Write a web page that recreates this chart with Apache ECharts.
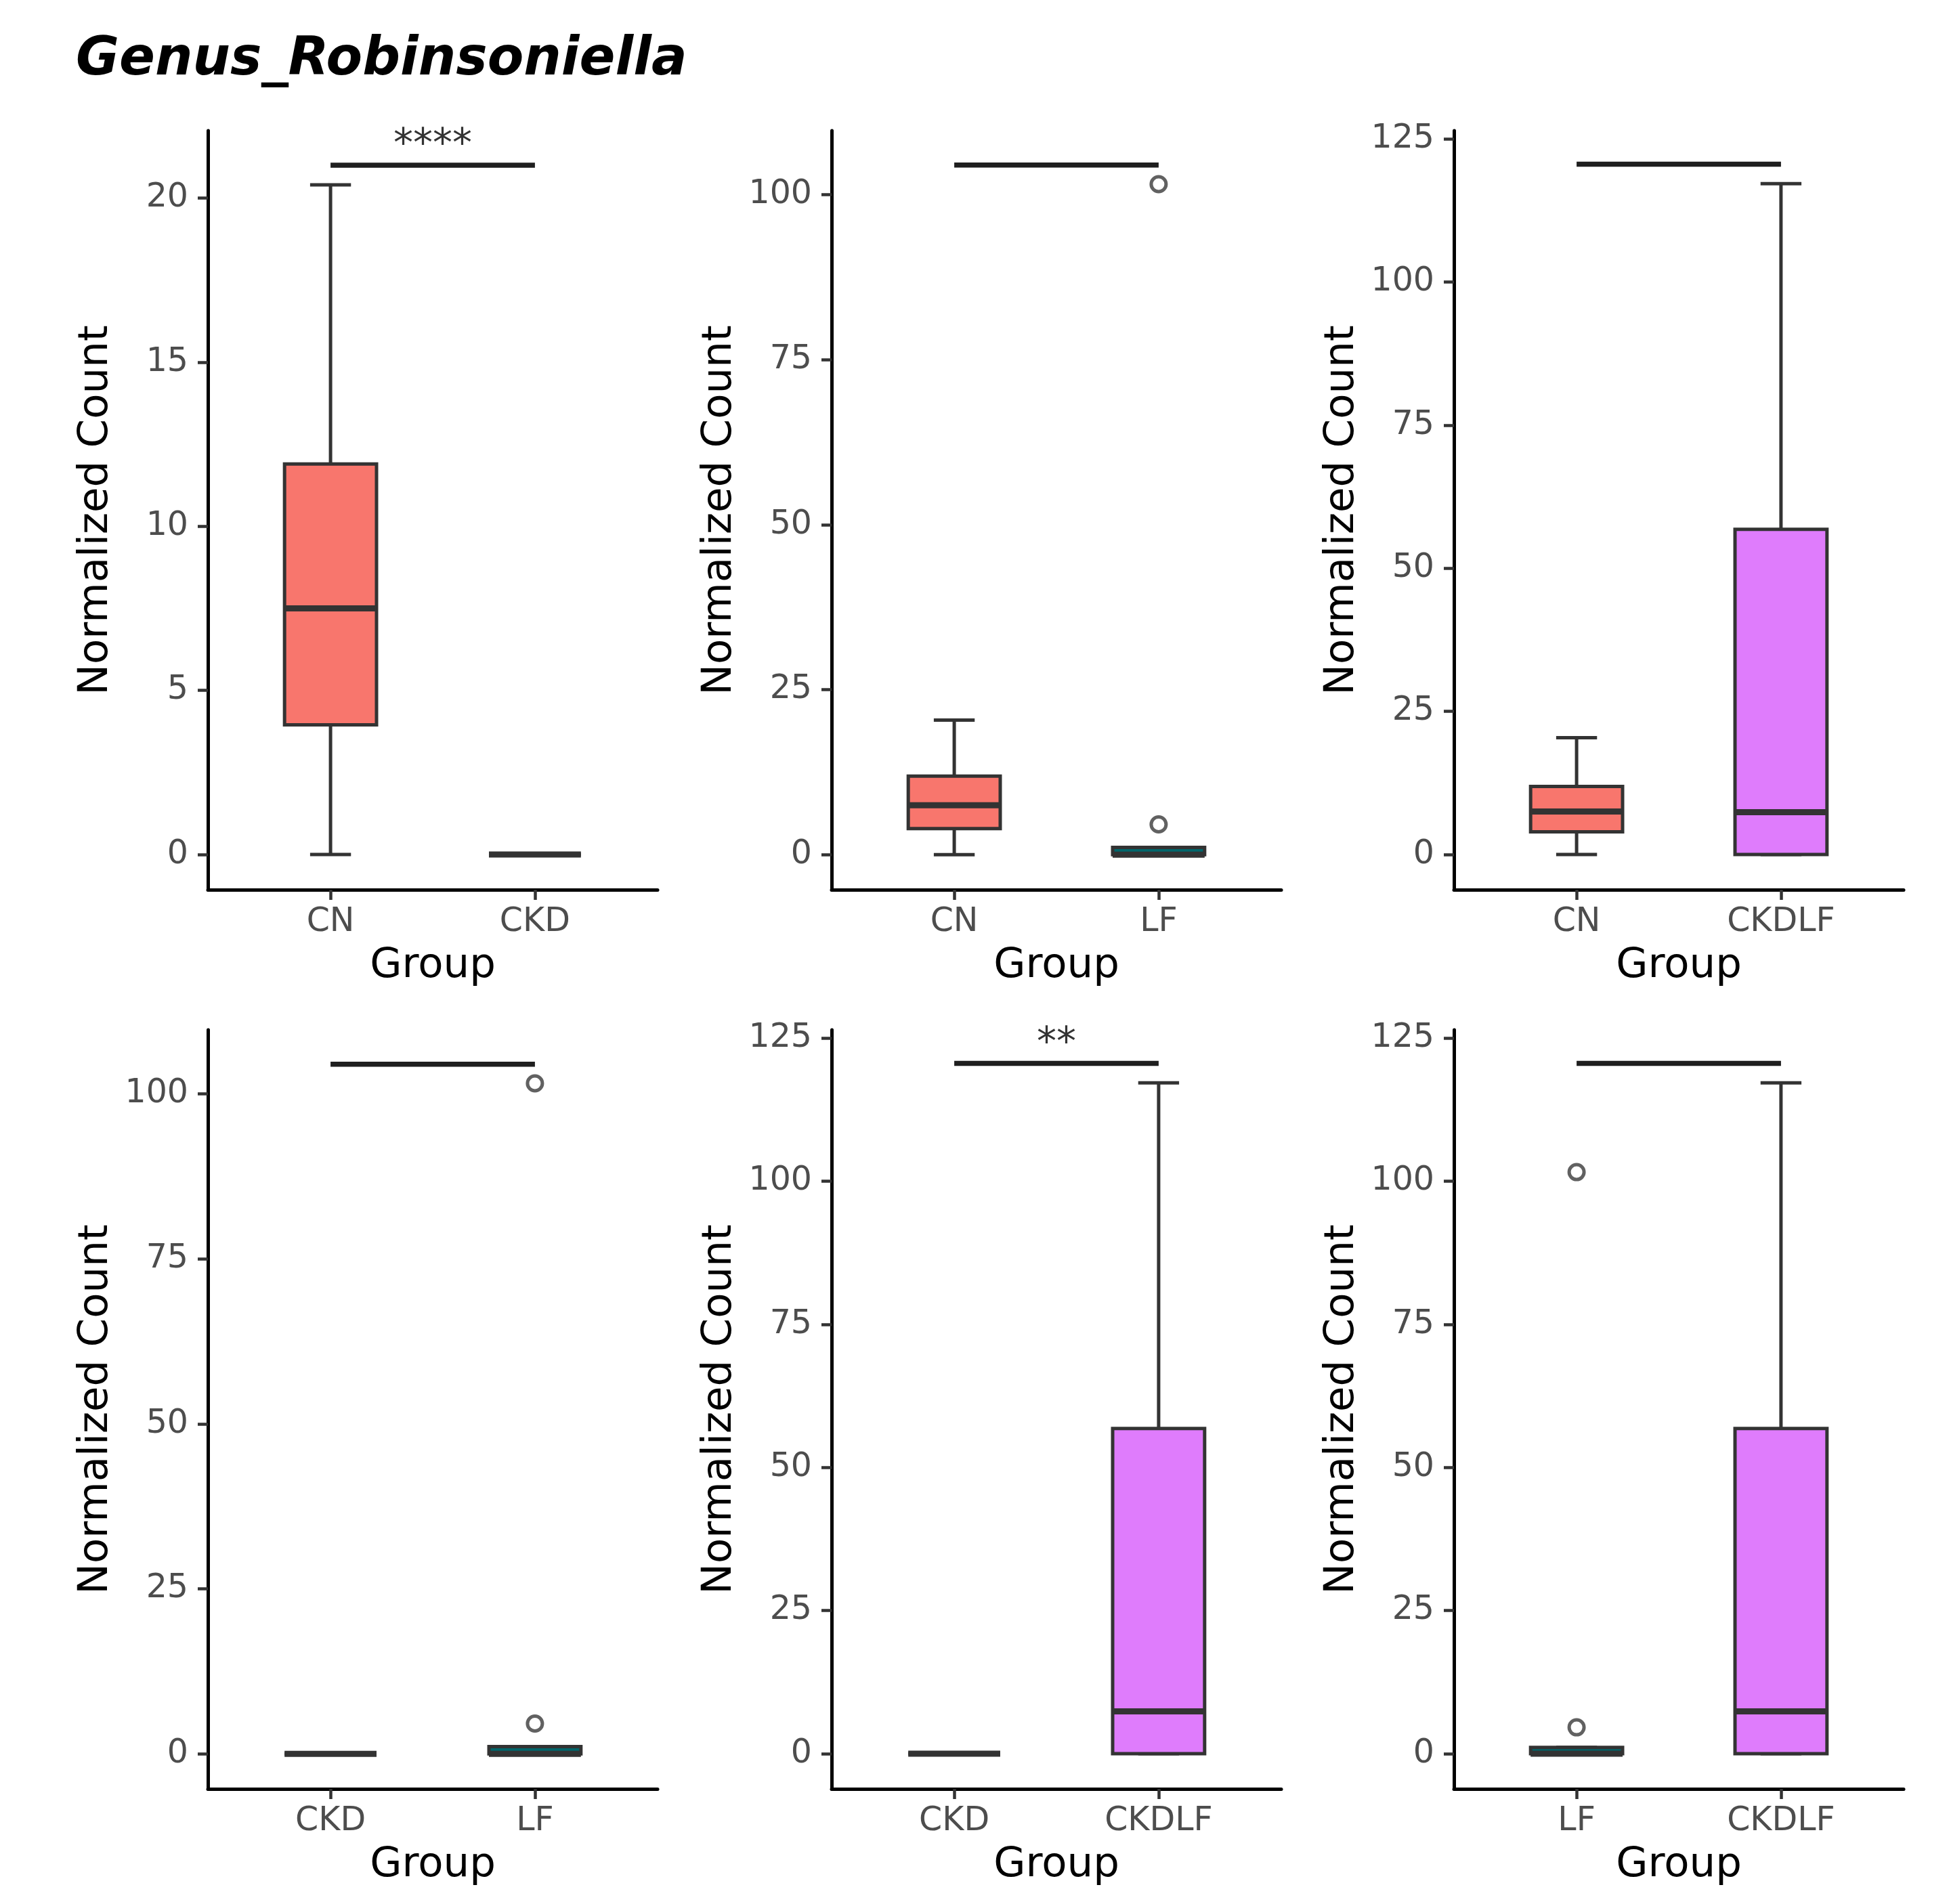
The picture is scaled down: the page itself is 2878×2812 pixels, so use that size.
<!DOCTYPE html>
<html>
<head>
<meta charset="utf-8">
<script src="https://cdn.jsdelivr.net/npm/echarts@6/dist/echarts.min.js"></script>
<style>
html,body{margin:0;padding:0;background:#fff;}
#c{width:2878px;height:2812px;}
</style>
</head>
<body>
<div id="c"></div>
<script>
// ---- data ----
const titleText = 'Genus_Robinsoniella';
const groupNames = ['CN', 'CKD', 'LF', 'CKDLF'];
// [min, Q1, median, Q3, max]
const statCN = [0, 3.95, 7.5, 11.9, 20.4];
const statCKD = [0, 0, 0, 0, 0];
const statLF = [0, 0, 0, 1.1, 1.1];
const statCKDLF = [0, 0, 7.4, 56.8, 117.2];
const outCN = [];
const outCKD = [];
const outLF = [4.6, 101.6];
const outCKDLF = [];
const groupColors = ['#F8766D', '#7CAE00', '#00666B', '#DF7CFC'];
// panel comparisons
const comparisons = [['CN','CKD'], ['CN','LF'], ['CN','CKDLF'], ['CKD','LF'], ['CKD','CKDLF'], ['LF','CKDLF']];
const bracketY = [21.0, 104.5, 120.6, 104.5, 120.6, 120.6];
const sigLabels = ['****', '', '', '', '**', ''];
const yMin = [-1.07, -5.3, -6.15, -5.3, -6.15, -6.15];
const yMax = [22.05, 109.7, 126.45, 109.7, 126.45, 126.45];
const yTicks = [
  [0, 5, 10, 15, 20],
  [0, 25, 50, 75, 100],
  [0, 25, 50, 75, 100, 125],
  [0, 25, 50, 75, 100],
  [0, 25, 50, 75, 100, 125],
  [0, 25, 50, 75, 100, 125]
];
const xTicks = [1, 2];

const stats = {CN: statCN, CKD: statCKD, LF: statLF, CKDLF: statCKDLF};
const outs = {CN: outCN, CKD: outCKD, LF: outLF, CKDLF: outCKDLF};

// ---- layout ----
const colLeft = [307, 1228, 2147];
const rowTop = [193, 1521];
const gridW = 664, gridH = 1121;
const FONT = 'DejaVu Sans';
const lineCol = '#333333';

const chart = echarts.init(document.getElementById('c'), null, {renderer: 'canvas'});

const grids = [], xAxes = [], yAxes = [], series = [];

comparisons.forEach((pair, i) => {
  const col = i % 3, row = Math.floor(i / 3);
  grids.push({left: colLeft[col], top: rowTop[row], width: gridW, height: gridH, containLabel: false});
  xAxes.push({
    type: 'value', gridIndex: i, min: 0.4, max: 2.6,
    name: 'Group', nameLocation: 'middle', nameGap: 83,
    nameTextStyle: {fontFamily: FONT, fontSize: 61, color: '#000'},
    axisLine: {show: true, onZero: false, lineStyle: {color: '#000', width: 5}},
    axisTick: {show: true, length: 15, customValues: xTicks, lineStyle: {color: lineCol, width: 4.5}},
    axisLabel: {show: true, customValues: xTicks, margin: 24, fontFamily: FONT, fontSize: 49, color: '#4D4D4D',
      formatter: (v) => pair[Math.round(v) - 1]},
    splitLine: {show: false}
  });
  yAxes.push({
    type: 'value', gridIndex: i, min: yMin[i], max: yMax[i],
    name: 'Normalized Count', nameLocation: 'middle', nameGap: 134, nameRotate: 90,
    nameTextStyle: {fontFamily: FONT, fontSize: 61, color: '#000'},
    axisLine: {show: true, onZero: false, lineStyle: {color: '#000', width: 5}},
    axisTick: {show: true, length: 15, customValues: yTicks[i], lineStyle: {color: lineCol, width: 4.5}},
    axisLabel: {show: true, customValues: yTicks[i], margin: 29, fontFamily: FONT, fontSize: 49, color: '#4D4D4D'},
    splitLine: {show: false}
  });

  // boxes
  const boxData = pair.map((g, k) => {
    const s = stats[g];
    return [k + 1, s[0], s[1], s[2], s[3], s[4], groupNames.indexOf(g)];
  });
  series.push({
    type: 'custom', xAxisIndex: i, yAxisIndex: i, data: boxData, clip: false,
    renderItem: (params, api) => {
      const x = api.value(0);
      const mn = api.value(1), q1 = api.value(2), md = api.value(3), q3 = api.value(4), mx = api.value(5);
      const ci = api.value(6);
      const hb = 0.225, hc = 0.1;
      const P = (a, b) => api.coord([a, b]);
      const ln = (a, b, w) => ({type: 'line', shape: {x1: a[0], y1: a[1], x2: b[0], y2: b[1]},
        style: {stroke: lineCol, lineWidth: w, lineCap: 'butt'}});
      const tl = P(x - hb, q3), br = P(x + hb, q1);
      return {type: 'group', children: [
        ln(P(x, q3), P(x, mx), 5),
        ln(P(x, mn), P(x, q1), 5),
        ln(P(x - hc, mx), P(x + hc, mx), 5),
        ln(P(x - hc, mn), P(x + hc, mn), 5),
        {type: 'rect', shape: {x: tl[0], y: tl[1], width: br[0] - tl[0], height: br[1] - tl[1]},
          style: {fill: groupColors[ci], stroke: lineCol, lineWidth: 5}},
        ln(P(x - hb, md), P(x + hb, md), 9)
      ]};
    }
  });

  // outliers
  const outData = [];
  pair.forEach((g, k) => outs[g].forEach(v => outData.push([k + 1, v])));
  if (outData.length) {
    series.push({
      type: 'scatter', xAxisIndex: i, yAxisIndex: i, data: outData,
      symbol: 'circle', symbolSize: 22,
      itemStyle: {color: '#fff', borderColor: '#3a3a3a', borderWidth: 5}
    });
  }

  // bracket + significance
  series.push({
    type: 'custom', xAxisIndex: i, yAxisIndex: i, clip: false,
    data: [[1, 2, bracketY[i]]],
    renderItem: (params, api) => {
      const a = api.coord([api.value(0), api.value(2)]);
      const b = api.coord([api.value(1), api.value(2)]);
      const children = [{type: 'line', shape: {x1: a[0], y1: a[1], x2: b[0], y2: b[1]},
        style: {stroke: '#1f1f1f', lineWidth: 7.5}}];
      if (sigLabels[i]) {
        children.push({type: 'text', x: (a[0] + b[0]) / 2, y: a[1] + 1,
          style: {text: sigLabels[i], fill: '#333', fontFamily: FONT, fontSize: 58,
            align: 'center', verticalAlign: 'bottom'}});
      }
      return {type: 'group', children};
    }
  });
});

chart.setOption({
  animation: false,
  backgroundColor: '#fff',
  title: {
    text: titleText, left: 112, top: 51, padding: 0,
    textStyle: {fontFamily: FONT, fontSize: 78, fontWeight: 'bold', fontStyle: 'italic', color: '#000'}
  },
  grid: grids, xAxis: xAxes, yAxis: yAxes, series
});
</script>
</body>
</html>
